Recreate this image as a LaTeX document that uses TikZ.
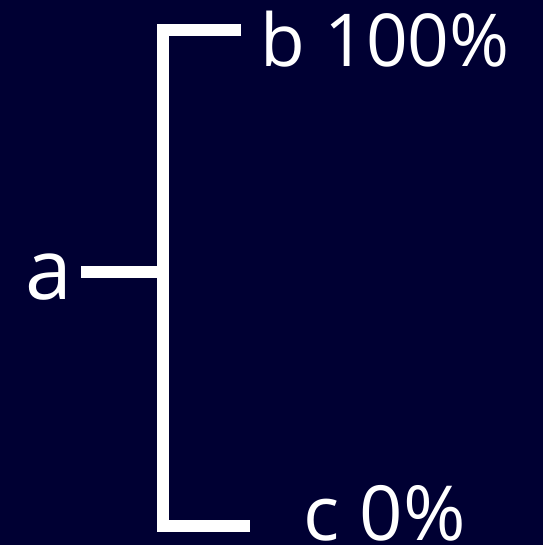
\documentclass[tikz,border=0pt]{standalone}
\usepackage{fontspec}
\setmainfont{Open Sans}
\usepackage{tikz}
\definecolor{navybg}{RGB}{0,0,51}

\begin{document}
\begin{tikzpicture}[x=1pt,y=-1pt,line width=11.5pt]
\tikzset{lbl/.style={white,inner sep=0pt,anchor=base west,font=\fontsize{73}{80}\selectfont},
         bar/.style={white,line width=11.5pt,line cap=butt,line join=miter}}

\fill[navybg] (0,0) rectangle (543,545);
\useasboundingbox (0,0) rectangle (543,545);

\node[lbl,font=\fontsize{84}{90}\selectfont] (a) at (20,299) {a};
\node[lbl] (b) at (255,67) {b 100\%};
\node[lbl,font=\fontsize{76}{80}\selectfont] (c) at (298,540) {c 0\%};

\coordinate (stem) at (81,272);
\coordinate (fork) at (163,272);
\coordinate (topend) at (241,30);
\coordinate (topcorner) at (163,30);
\coordinate (botcorner) at (163,526);
\coordinate (botend) at (250,526);

\draw[bar] (stem) -- (fork); %a
\draw[bar] (topend) -- (topcorner) -- (botcorner) -- (botend); %b,c

\end{tikzpicture}
\end{document}
